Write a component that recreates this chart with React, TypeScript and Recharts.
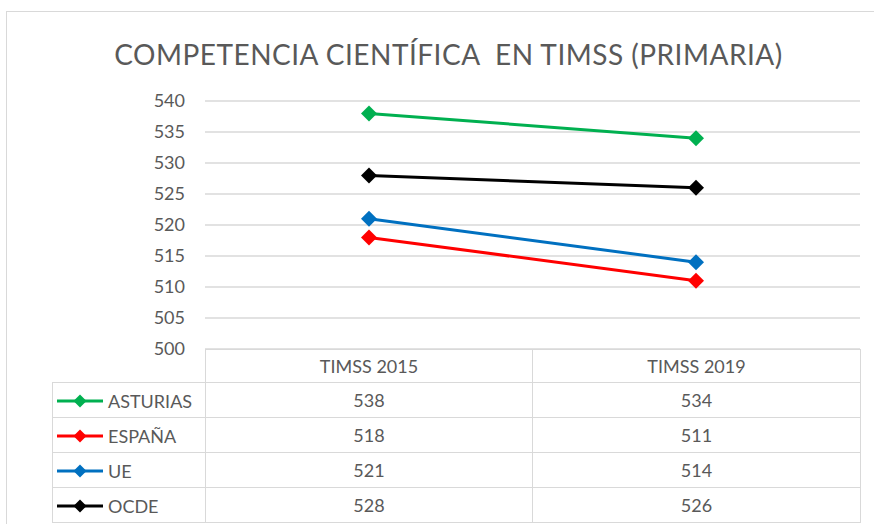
import React from 'react';
import { LineChart, Line, XAxis, YAxis, CartesianGrid } from 'recharts';

const categories = ['TIMSS 2015', 'TIMSS 2019'];
const asturias = [538, 534];
const espana = [518, 511];
const ue = [521, 514];
const ocde = [528, 526];
const yTicks = [500, 505, 510, 515, 520, 525, 530, 535, 540];

const series = [
  { name: 'ASTURIAS', values: asturias, color: '#00b050' },
  { name: 'ESPAÑA', values: espana, color: '#ff0000' },
  { name: 'UE', values: ue, color: '#0070c0' },
  { name: 'OCDE', values: ocde, color: '#000000' },
];

const data = categories.map((cat, i) => {
  const row: Record<string, number | string> = { cat };
  series.forEach((s) => (row[s.name] = s.values[i]));
  return row;
});

const FONT = 'Lato, "Noto Sans", sans-serif';
const GRID = '#d9d9d9';
const TEXT = '#595959';

const diamond = (color: string) => (props: any) => {
  const { cx, cy } = props;
  if (cx == null || cy == null) return <g />;
  const r = 8;
  return <path d={`M${cx},${cy - r}L${cx + r},${cy}L${cx},${cy + r}L${cx - r},${cy}Z`} fill={color} />;
};

function LegendKey({ color }: { color: string }) {
  return (
    <svg width={50} height={16} style={{ verticalAlign: 'middle', marginRight: 3 }}>
      <line x1={2} y1={8} x2={48} y2={8} stroke={color} strokeWidth={3} />
      <path d="M25,1.5L31.5,8L25,14.5L18.5,8Z" fill={color} />
    </svg>
  );
}

const cell: React.CSSProperties = {
  border: `1.5px solid ${GRID}`,
  textAlign: 'center',
  padding: 0,
  color: TEXT,
  fontSize: 18,
};

export default function App() {
  return (
    <div style={{ position: 'absolute', left: 0, top: 0, width: 874, height: 524, background: '#fff', overflow: 'hidden', fontFamily: FONT }}>
      <div style={{ position: 'absolute', left: 6, top: 11, width: 900, height: 600, border: `1.5px solid ${GRID}` }} />
      <div style={{ position: 'absolute', left: 0, top: 37, width: 897, textAlign: 'center', fontSize: 28, letterSpacing: 0.5, color: TEXT }}>
        COMPETENCIA CIENTÍFICA&nbsp; EN TIMSS (PRIMARIA)
      </div>
      <div style={{ position: 'absolute', left: 0, top: 0 }}>
        <LineChart width={874} height={360} data={data} margin={{ top: 101, right: 14, bottom: 11, left: 0 }}>
          <CartesianGrid vertical={false} stroke={GRID} strokeWidth={1.5} />
          <XAxis dataKey="cat" hide padding={{ left: 164, right: 164 }} />
          <YAxis
            width={205}
            domain={[500, 540]}
            ticks={yTicks}
            axisLine={false}
            tickLine={false}
            tickSize={0}
            tickMargin={20}
            tick={{ fill: TEXT, fontSize: 18, fontFamily: FONT }}
          />
          {series.map((s) => (
            <Line
              key={s.name}
              dataKey={s.name}
              stroke={s.color}
              strokeWidth={3}
              dot={diamond(s.color)}
              activeDot={false}
              isAnimationActive={false}
            />
          ))}
        </LineChart>
      </div>
      <table
        style={{
          position: 'absolute',
          left: 52,
          top: 349,
          borderCollapse: 'collapse',
          tableLayout: 'fixed',
          width: 808,
          fontFamily: FONT,
        }}
      >
        <colgroup>
          <col style={{ width: 153 }} />
          <col style={{ width: 327 }} />
          <col style={{ width: 328 }} />
        </colgroup>
        <tbody>
          <tr style={{ height: 33 }}>
            <td style={{ border: 'none', padding: 0 }} />
            {categories.map((c) => (
              <td key={c} style={cell}>{c}</td>
            ))}
          </tr>
          {series.map((s) => (
            <tr key={s.name} style={{ height: 35 }}>
              <td style={{ ...cell, textAlign: 'left', whiteSpace: 'nowrap', paddingLeft: 2 }}>
                <LegendKey color={s.color} />
                <span style={{ verticalAlign: 'middle' }}>{s.name}</span>
              </td>
              {s.values.map((v, i) => (
                <td key={i} style={cell}>{v}</td>
              ))}
            </tr>
          ))}
        </tbody>
      </table>
    </div>
  );
}
